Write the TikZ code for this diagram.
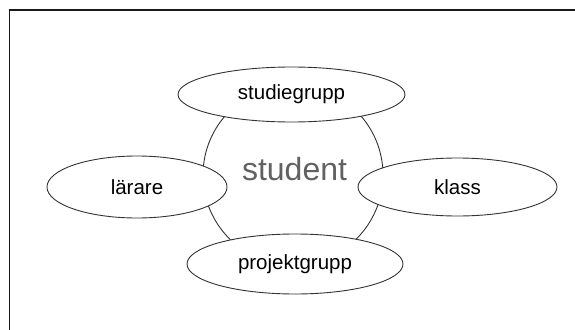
\documentclass[tikz,border=0pt]{standalone}
\usepackage{fontspec}
\setmainfont{Liberation Sans}
\usetikzlibrary{shapes.geometric}
\begin{document}
\begin{tikzpicture}[x=1pt,y=-1pt,
  outline/.style={draw=black!80,line width=0.9pt},
  bubble/.style={outline,ellipse,fill=white,inner sep=0pt,font=\fontsize{20.5}{24}\selectfont},
  hub/.style={outline,circle,inner sep=0pt,minimum size=180pt}]
\useasboundingbox (0,0) rectangle (575,329);
\coordinate (fbl) at (9.5,335);
\coordinate (ftl) at (9.5,10);
\coordinate (ftr) at (580,10);
\draw[line width=1.4pt,black!90] (fbl) -- (ftl) -- (ftr);
\node[hub] (student) at (293,175) {};
\node[anchor=base,text=black!62,font=\fontsize{32}{38}\selectfont] (studtext) at (294.5,180) {student};
\node[bubble,minimum width=227pt,minimum height=55pt] (studiegrupp) at (291.5,94.5) {studiegrupp};
\node[bubble,minimum width=180pt,minimum height=62pt] (larare) at (137,187) {lärare};
\node[bubble,minimum width=199pt,minimum height=58pt] (klass) at (457.5,187) {klass};
\node[bubble,minimum width=216pt,minimum height=60pt] (projektgrupp) at (295,264) {projektgrupp};
\end{tikzpicture}
\end{document}
